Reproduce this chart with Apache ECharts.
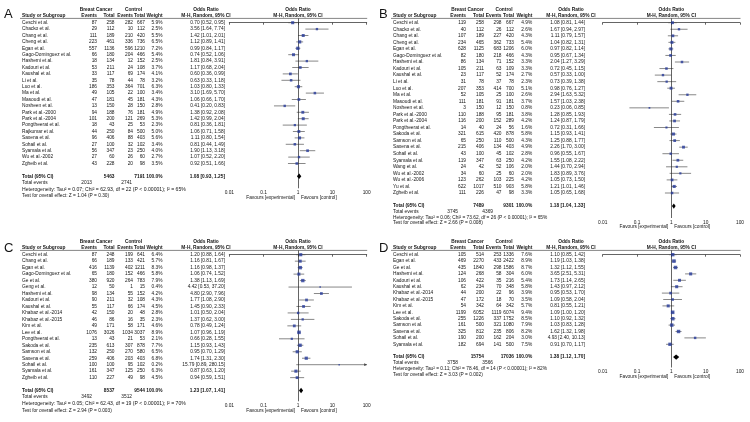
<!DOCTYPE html>
<html><head><meta charset="utf-8">
<script src="https://cdn.jsdelivr.net/npm/echarts@6.0.0/dist/echarts.min.js"></script>
<style>html,body{margin:0;padding:0;background:#fff}#c{width:750px;height:422px}</style>
</head><body><div id="c"></div>
<script>
const tickLabels = ['0.01', '0.1', '1', '10', '100'];

// ---------- Panel A ----------
const studiesA = ['Ceschi et al.','Chacko et al.','Chang et al.','Cheng et al.','Egan et al.','Gago-Dominguez et al.','Hashemi et al.','Kadouri et al.','Kaushal et al.','Li et al.','Luo et al.','Ma et al.','Masoudi et al.','Nosheen et al.','Park et al.-2000','Park et al.-2004','Pongtheerat et al.','Rajkumar et al.','Saxena et al.','Sohail et al.','Syamala et al.','Wu et al.-2002','Zgheib et al.'];
const bcEventsA = [87,29,111,223,557,66,18,53,33,35,186,49,47,13,94,101,18,44,96,27,56,27,43];
const bcTotalA = [258,112,189,461,1136,180,134,211,117,78,353,105,181,150,188,200,43,250,406,100,347,60,228];
const ctEventsA = [282,10,210,336,596,204,12,24,69,44,364,22,45,28,76,121,25,84,88,32,23,26,20];
const ctTotalA = [667,112,420,736,1210,466,152,108,174,78,701,100,181,150,181,269,53,500,403,102,250,60,98];
const weightA = [5.9,2.5,5.5,6.5,7.2,5.4,2.5,3.7,4.1,3.2,6.3,3.4,4.3,2.8,4.9,5.3,2.3,5.0,5.6,3.4,4.0,2.7,3.5];
const orA = [0.70,3.56,1.42,1.12,0.99,0.74,1.81,1.17,0.60,0.63,1.03,3.10,1.06,0.41,1.38,1.42,0.81,1.06,1.11,0.81,1.90,1.07,0.92];
const loA = [0.52,1.64,1.01,0.89,0.84,0.52,0.84,0.68,0.36,0.33,0.80,1.69,0.66,0.20,0.92,0.99,0.36,0.71,0.80,0.44,1.13,0.52,0.51];
const hiA = [0.95,7.74,2.01,1.41,1.17,1.06,3.91,2.04,0.99,1.18,1.33,5.70,1.70,0.83,2.08,2.04,1.81,1.58,1.54,1.49,3.18,2.20,1.66];
const totalA = [5463, 7191, 100.0, 1.08, 0.93, 1.25];
const totalEventsA = [2013, 2741];
const hetA = 'Heterogeneity: Tau\u00b2 = 0.07; Chi\u00b2 = 62.93, df = 22 (P < 0.00001); I\u00b2 = 65%';
const testA = 'Test for overall effect: Z = 1.04 (P = 0.30)';

// ---------- Panel B ----------
const studiesB = ['Ceschi et al.','Chacko et al.','Chang et al.','Cheng et al.','Egan et al.','Gago-Dominguez et al.','Hashemi et al.','Kadouri et al.','Kaushal et al.','Li et al.','Luo et al.','Ma et al.','Masoudi et al.','Nosheen et al.','Park et al.-2000','Park et al.-2004','Pongtheerat et al.','Sakoda et al.','Samson et al.','Saxena et al.','Sohail et al.','Syamala et al.','Wang et al.','Wu et al.-2002','Wu et al.-2006','Yu et al.','Zgheib et al.'];
const bcEventsB = [119,40,107,234,628,82,86,105,23,31,207,52,111,3,110,116,14,321,65,215,43,119,24,34,123,622,111];
const bcTotalB = [258,112,189,465,1125,180,134,211,117,78,353,105,181,150,188,200,40,615,250,406,100,347,42,60,262,1017,226];
const ctEventsB = [298,26,227,362,683,218,71,63,52,37,414,25,91,12,95,152,24,420,110,134,45,63,52,25,103,510,47];
const ctTotalB = [667,112,420,733,1206,466,152,109,174,78,700,100,181,150,181,289,56,878,500,403,102,250,106,60,225,903,98];
const weightB = [4.9,2.6,4.3,5.4,6.0,4.3,3.3,3.3,2.7,2.3,5.1,2.6,3.7,0.8,3.8,4.2,1.6,5.8,4.3,4.9,2.8,4.2,2.0,2.0,4.2,5.8,3.3];
const orB = [1.08,1.67,1.11,1.04,0.97,0.95,2.04,0.72,0.57,0.73,0.98,2.94,1.57,0.23,1.28,1.24,0.72,1.15,1.25,2.26,0.96,1.55,1.44,1.83,1.05,1.21,1.05];
const loB = [0.81,0.94,0.79,0.82,0.82,0.67,1.27,0.45,0.33,0.39,0.76,1.63,1.03,0.06,0.85,0.87,0.31,0.93,0.88,1.70,0.55,1.08,0.70,0.89,0.73,1.01,0.65];
const hiB = [1.44,2.97,1.57,1.31,1.14,1.34,3.29,1.15,1.00,1.38,1.27,5.32,2.38,0.85,1.93,1.79,1.66,1.41,1.77,3.00,1.67,2.22,2.94,3.76,1.50,1.46,1.68];
const totalB = [7489, 9301, 100.0, 1.18, 1.04, 1.33];
const totalEventsB = [3745, 4369];
const hetB = 'Heterogeneity: Tau\u00b2 = 0.06; Chi\u00b2 = 73.62, df = 26 (P < 0.00001); I\u00b2 = 65%';
const testB = 'Test for overall effect: Z = 2.66 (P = 0.008)';

// ---------- Panel C ----------
const studiesC = ['Ceschi et al.','Chang et al.','Egan et al.','Gago-Dominguez et al.','Ge et al.','Geng et al.','Hashemi et al.','Kadouri et al.','Kaushal et al.','Khabaz et al.-2014','Khabaz et al.-2015','Kim et al.','Lee et al.','Pongtheerat et al.','Sakoda et al.','Samson et al.','Saxena et al.','Sohail et al.','Syamala et al.','Zgheib et al.'];
const bcEventsC = [87,66,416,65,380,12,98,90,55,42,46,49,1076,13,235,132,259,100,161,110];
const bcTotalC = [248,189,1139,180,920,50,134,211,117,150,86,171,3026,43,613,250,406,100,347,227];
const ctEventsC = [199,133,402,152,264,1,55,32,66,20,16,58,1034,21,307,270,203,95,125,49];
const ctTotalC = [641,421,1211,466,783,15,152,108,174,48,35,171,3037,53,878,580,403,102,250,98];
const weightC = [6.4,5.7,8.3,5.8,7.9,0.4,4.2,4.3,4.5,2.8,2.3,4.6,8.9,2.1,7.7,6.5,6.8,0.2,6.3,4.5];
const orC = [1.20,1.16,1.16,1.06,1.38,4.42,4.80,1.77,1.45,1.01,1.37,0.78,1.07,0.66,1.15,0.95,1.74,15.79,0.87,0.94];
const loC = [0.88,0.81,0.98,0.74,1.13,0.53,2.90,1.08,0.90,0.50,0.62,0.49,0.96,0.28,0.93,0.70,1.31,0.89,0.63,0.59];
const hiC = [1.64,1.67,1.37,1.52,1.69,37.20,7.96,2.90,2.33,2.04,3.00,1.24,1.19,1.55,1.43,1.29,2.30,280.15,1.20,1.51];
const totalC = [8537, 9544, 100.0, 1.23, 1.07, 1.41];
const totalEventsC = [3492, 3512];
const hetC = 'Heterogeneity: Tau\u00b2 = 0.05; Chi\u00b2 = 62.43, df = 19 (P < 0.00001); I\u00b2 = 70%';
const testC = 'Test for overall effect: Z = 2.94 (P = 0.003)';

// ---------- Panel D ----------
const studiesD = ['Ceschi et al.','Egan et al.','Ge et al.','Hashemi et al.','Kadouri et al.','Kaushal et al.','Khabaz et al.-2014','Khabaz et al.-2015','Kim et al.','Lee et al.','Sakoda et al.','Samson et al.','Saxena et al.','Sohail et al.','Syamala et al.'];
const bcEventsD = [105,469,435,124,106,62,44,47,54,1199,255,161,325,190,182];
const bcTotalD = [514,2270,1840,268,422,234,200,172,342,6052,1226,500,812,200,694];
const ctEventsD = [253,433,298,58,35,70,22,18,64,1119,337,321,235,162,141];
const ctTotalD = [1336,2422,1586,304,216,348,96,70,342,6074,1752,1080,806,204,500];
const weightD = [7.6,8.9,8.7,6.0,5.4,5.8,3.9,3.5,5.7,9.4,8.5,7.9,8.2,3.0,7.5];
const orD = [1.10,1.19,1.32,3.65,1.73,1.43,0.95,1.09,0.81,1.09,1.10,1.03,1.62,4.93,0.91];
const loD = [0.85,1.03,1.12,2.51,1.14,0.97,0.53,0.58,0.55,1.00,0.92,0.83,1.32,2.40,0.70];
const hiD = [1.42,1.38,1.55,5.31,2.65,2.12,1.70,2.04,1.21,1.20,1.32,1.28,1.98,10.13,1.17];
const totalD = [15754, 17036, 100.0, 1.38, 1.12, 1.70];
const totalEventsD = [3758, 3566];
const hetD = 'Heterogeneity: Tau\u00b2 = 0.11; Chi\u00b2 = 78.46, df = 14 (P < 0.00001); I\u00b2 = 82%';
const testD = 'Test for overall effect: Z = 3.03 (P = 0.002)';

// ---------- layout (positions only) ----------
const FONT = '"Liberation Sans", Arial, Helvetica, sans-serif';
const FS = 4.8;
const TXT = '#141414';
const colsLeft = {name:22, e1:97, t1:114.5, e2:133, t2:145, w:162.5, ci:225, ciHdr:206, bc:96, ct:133.5, te1:92, te2:132, lineL:20, plotL:229.3, plotR:366.7, letterX:4, hetSize:5.1};
const colsRight = {name:15, e1:88, t1:106, e2:123.5, t2:136, w:154.3, ci:207, ciHdr:193, bc:89.5, ct:126, te1:80, te2:115, lineL:13, plotL:224.7, plotR:362, letterX:1, hetSize:4.8};
const layA = Object.assign({px:0, y0:22.7, pitch:6.4, footPitch:6.5, axisY:188.3, hdr1:9.3, hdr2:15.6, line:18.4, letterY:14.3}, colsLeft);
const layB = Object.assign({px:378, y0:22.7, pitch:6.55, footPitch:5.6, axisY:218, hdr1:9.3, hdr2:15.6, line:18.4, letterY:14.3}, colsRight);
const layC = Object.assign({px:0, y0:254.7, pitch:6.47, footPitch:6.6, axisY:401.3, hdr1:241.3, hdr2:247.6, line:250.4, letterY:248}, colsLeft);
const layD = Object.assign({px:378, y0:254.7, pitch:6.4, footPitch:5.8, axisY:367.5, hdr1:241.3, hdr2:247.6, line:250.4, letterY:248}, colsRight);

const panels = [
  {label:'A', studies:studiesA, bcE:bcEventsA, bcT:bcTotalA, ctE:ctEventsA, ctT:ctTotalA, w:weightA, or:orA, lo:loA, hi:hiA, tot:totalA, tev:totalEventsA, het:hetA, test:testA, L:layA},
  {label:'B', studies:studiesB, bcE:bcEventsB, bcT:bcTotalB, ctE:ctEventsB, ctT:ctTotalB, w:weightB, or:orB, lo:loB, hi:hiB, tot:totalB, tev:totalEventsB, het:hetB, test:testB, L:layB},
  {label:'C', studies:studiesC, bcE:bcEventsC, bcT:bcTotalC, ctE:ctEventsC, ctT:ctTotalC, w:weightC, or:orC, lo:loC, hi:hiC, tot:totalC, tev:totalEventsC, het:hetC, test:testC, L:layC},
  {label:'D', studies:studiesD, bcE:bcEventsD, bcT:bcTotalD, ctE:ctEventsD, ctT:ctTotalD, w:weightD, or:orD, lo:loD, hi:hiD, tot:totalD, tev:totalEventsD, het:hetD, test:testD, L:layD}
];

const fmtCI = (o, l, h) => o.toFixed(2) + ' [' + l.toFixed(2) + ', ' + h.toFixed(2) + ']';

function buildCells(p) {
  const L = p.L, n = p.studies.length, cells = [];
  const r = y => (y - L.y0) / L.pitch;
  const fp = L.footPitch / L.pitch;
  const h1 = r(L.hdr1), h2 = r(L.hdr2);
  cells.push({t:p.label, x:L.letterX, row:r(L.letterY), size:13});
  cells.push({t:'Breast Cancer', x:L.bc, row:h1, bold:1, align:'center'});
  cells.push({t:'Control', x:L.ct, row:h1, bold:1, align:'center'});
  cells.push({t:'Odds Ratio', x:L.ciHdr, row:h1, bold:1, align:'center'});
  cells.push({t:'Odds Ratio', plot:1, dx:0, row:h1, bold:1, align:'center'});
  cells.push({t:'Study or Subgroup', x:L.name, row:h2, bold:1});
  cells.push({t:'Events', x:L.e1, row:h2, bold:1, align:'right'});
  cells.push({t:'Total', x:L.t1, row:h2, bold:1, align:'right'});
  cells.push({t:'Events', x:L.e2, row:h2, bold:1, align:'right'});
  cells.push({t:'Total', x:L.t2, row:h2, bold:1, align:'right'});
  cells.push({t:'Weight', x:L.w, row:h2, bold:1, align:'right'});
  cells.push({t:'M-H, Random, 95% CI', x:L.ciHdr, row:h2, bold:1, align:'center'});
  cells.push({t:'M-H, Random, 95% CI', plot:1, dx:0, row:h2, bold:1, align:'center'});
  cells.push({hline:1, x:L.lineL, row:r(L.line)});
  p.studies.forEach((s, i) => {
    cells.push({t:s, x:L.name, row:i});
    cells.push({t:String(p.bcE[i]), x:L.e1, row:i, align:'right'});
    cells.push({t:String(p.bcT[i]), x:L.t1, row:i, align:'right'});
    cells.push({t:String(p.ctE[i]), x:L.e2, row:i, align:'right'});
    cells.push({t:String(p.ctT[i]), x:L.t2, row:i, align:'right'});
    cells.push({t:p.w[i].toFixed(1) + '%', x:L.w, row:i, align:'right'});
    cells.push({t:fmtCI(p.or[i], p.lo[i], p.hi[i]), x:L.ci, row:i, align:'right'});
  });
  const tr = n + 1;
  cells.push({t:'Total (95% CI)', x:L.name, row:tr, bold:1});
  cells.push({t:String(p.tot[0]), x:L.t1, row:tr, bold:1, align:'right'});
  cells.push({t:String(p.tot[1]), x:L.t2, row:tr, bold:1, align:'right'});
  cells.push({t:p.tot[2].toFixed(1) + '%', x:L.w, row:tr, bold:1, align:'right'});
  cells.push({t:fmtCI(p.tot[3], p.tot[4], p.tot[5]), x:L.ci, row:tr, bold:1, align:'right'});
  cells.push({t:'Total events', x:L.name, row:tr + fp});
  cells.push({t:String(p.tev[0]), x:L.te1, row:tr + fp, align:'right'});
  cells.push({t:String(p.tev[1]), x:L.te2, row:tr + fp, align:'right'});
  cells.push({t:p.het, x:L.name, row:tr + 2 * fp, size:L.hetSize});
  cells.push({t:p.test, x:L.name, row:tr + 3 * fp});
  const fav = r(L.axisY + 9);
  cells.push({t:'Favours [experimental]', plot:1, dx:-3, row:fav, align:'right'});
  cells.push({t:'Favours [control]', plot:1, dx:3, row:fav, align:'left'});
  return cells;
}

function textEl(x, y, c) {
  return {type:'text', x:x, y:y, silent:true, style:{text:c.t, fontSize:c.size || FS, fontFamily:FONT,
    fontWeight:c.bold ? 'bold' : 'normal', fill:TXT, align:c.align || 'left', verticalAlign:'middle'}};
}

const grids = [], xAxes = [], yAxes = [], series = [];
panels.forEach((p, k) => {
  const L = p.L, n = p.studies.length;
  const yMin = (L.line - L.y0) / L.pitch, yMax = (L.axisY - L.y0) / L.pitch;
  grids.push({left:L.px + L.plotL, top:L.line, width:L.plotR - L.plotL, height:L.axisY - L.line,
    containLabel:false, outerBoundsMode:'none', show:false});
  xAxes.push({gridIndex:k, type:'log', logBase:10, min:0.01, max:100,
    axisLine:{show:true, lineStyle:{color:'#222', width:0.7}},
    axisTick:{show:true, length:2, lineStyle:{color:'#222', width:0.7}},
    minorTick:{show:false}, splitLine:{show:false},
    axisLabel:{fontSize:FS, margin:2, color:TXT, fontFamily:FONT,
      formatter: v => tickLabels[Math.round(Math.log10(v)) + 2]}});
  yAxes.push({gridIndex:k, type:'value', inverse:true, min:yMin, max:yMax, show:false});

  // study squares + line of no effect
  series.push({type:'scatter', xAxisIndex:k, yAxisIndex:k, symbol:'rect', silent:true, z:5,
    data:p.or.map((v, i) => [v, i, p.w[i]]),
    symbolSize: val => 1 + Math.sqrt(val[2]) * 0.85,
    itemStyle:{color:'#26399a'},
    markLine:{silent:true, symbol:'none', label:{show:false}, animation:false,
      lineStyle:{color:'#222', width:0.7, type:'solid'}, data:[{xAxis:1}]}});

  // confidence interval whiskers
  series.push({type:'custom', xAxisIndex:k, yAxisIndex:k, clip:false, silent:true, z:4,
    encode:{x:[0, 1], y:2},
    data:p.lo.map((v, i) => [v, p.hi[i], i]),
    renderItem:(params, api) => {
      const lo = api.value(0), hi = api.value(1), row = api.value(2);
      const a = api.coord([Math.max(lo, 0.01), row]), b = api.coord([Math.min(hi, 100), row]);
      const ch = [{type:'line', shape:{x1:a[0], y1:a[1], x2:b[0], y2:b[1]}, style:{stroke:'#555', lineWidth:0.7}}];
      if (hi > 100) ch.push({type:'polygon', shape:{points:[[b[0] + 0.5, b[1]], [b[0] - 2.5, b[1] - 1.4], [b[0] - 2.5, b[1] + 1.4]]}, style:{fill:'#444'}});
      return {type:'group', children:ch};
    }});

  // pooled estimate diamond
  series.push({type:'custom', xAxisIndex:k, yAxisIndex:k, clip:false, silent:true, z:5,
    encode:{x:[0, 1, 2], y:3},
    data:[[p.tot[4], p.tot[3], p.tot[5], n + 1]],
    renderItem:(params, api) => {
      const row = api.value(3);
      const l = api.coord([api.value(0), row]), m = api.coord([api.value(1), row]), h = api.coord([api.value(2), row]);
      const d = 2.7;
      return {type:'polygon', shape:{points:[[l[0], l[1]], [m[0], m[1] - d], [h[0], h[1]], [m[0], m[1] + d]]}, style:{fill:'#000'}};
    }});

  // table text
  const cells = buildCells(p);
  series.push({type:'custom', xAxisIndex:k, yAxisIndex:k, clip:false, silent:true, z:6,
    encode:{x:0, y:1},
    data:cells.map(c => [1, c.row]),
    renderItem:(params, api) => {
      const c = cells[params.dataIndex];
      const pt = api.coord([1, c.row]);
      if (c.hline) {
        const rgt = api.coord([100, c.row]);
        return {type:'line', shape:{x1:L.px + c.x, y1:pt[1], x2:rgt[0] + 0.5, y2:pt[1]}, style:{stroke:'#333', lineWidth:0.6}};
      }
      const x = c.plot ? pt[0] + (c.dx || 0) : L.px + c.x;
      return textEl(x, pt[1], c);
    }});
});

const chart = echarts.init(document.getElementById('c'), null, {renderer:'canvas', width:750, height:422});
chart.setOption({
  animation:false,
  backgroundColor:'#ffffff',
  grid:grids, xAxis:xAxes, yAxis:yAxes, series:series
});
</script>
</body></html>
